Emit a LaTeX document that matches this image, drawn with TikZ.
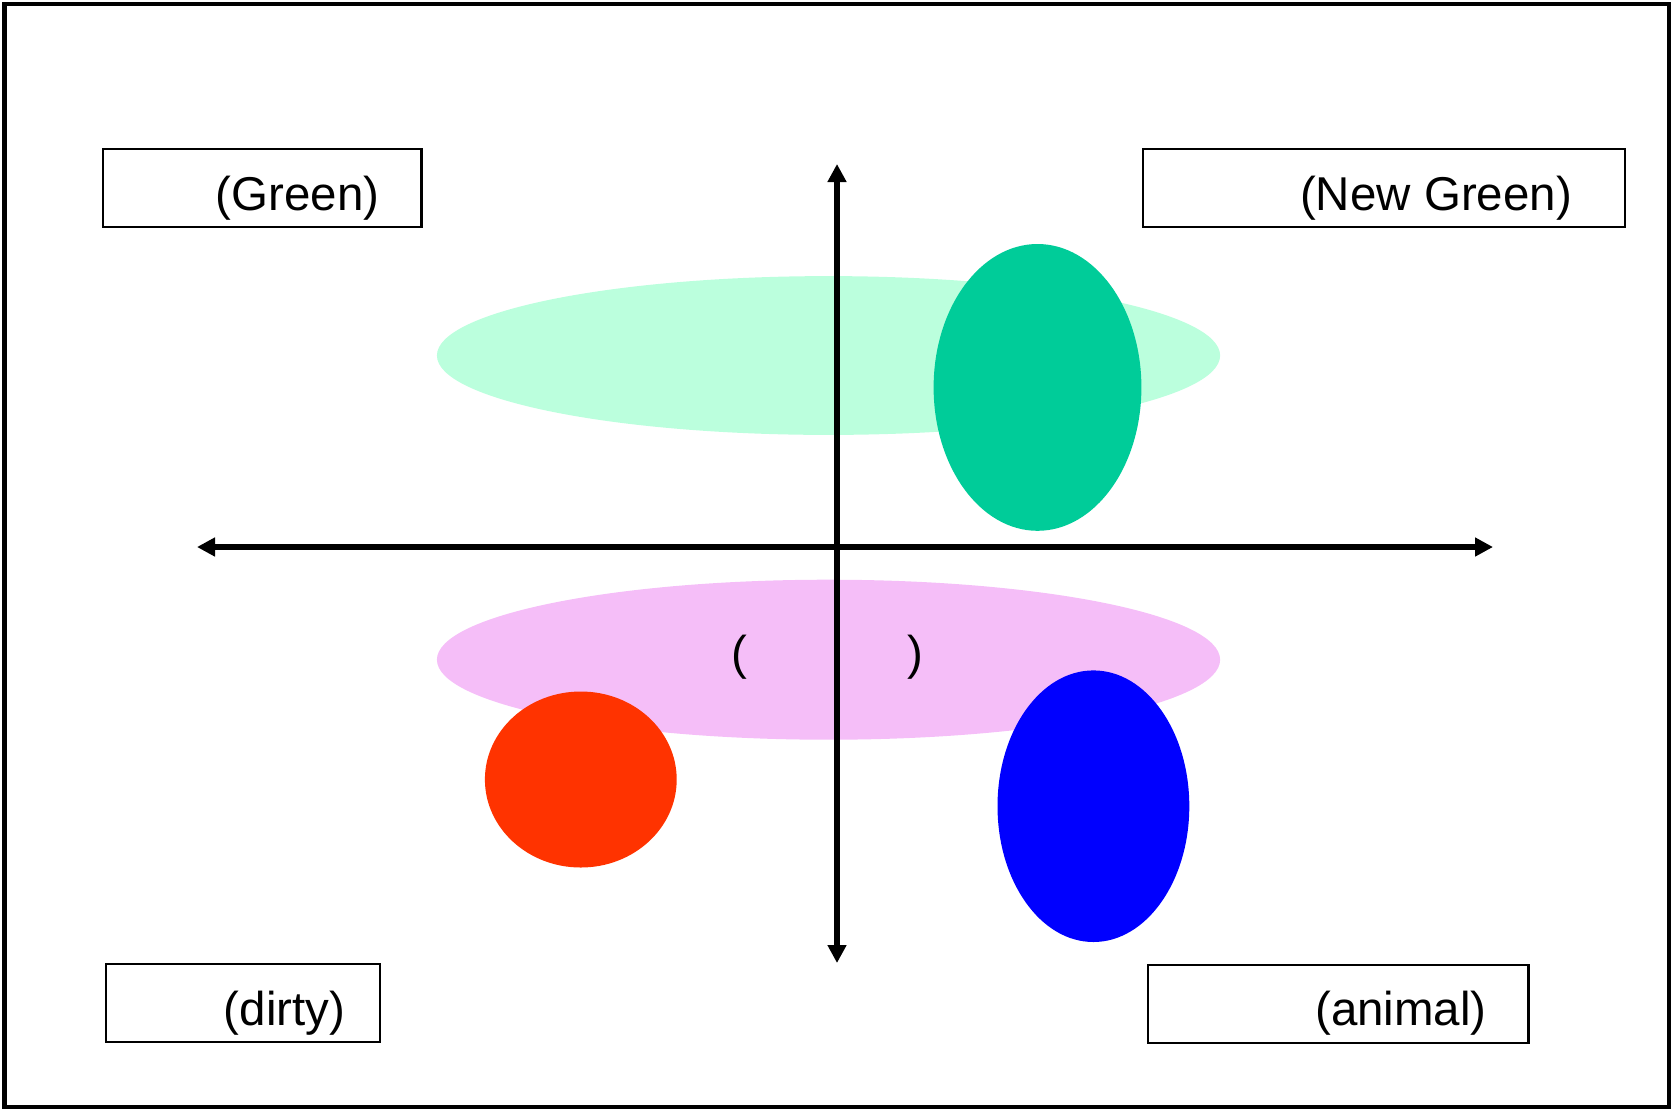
\documentclass[tikz,border=0pt]{standalone}
\usepackage{fontspec}
\setmainfont{Liberation Sans}
\usetikzlibrary{arrows.meta}
\definecolor{mapink}{HTML}{000000}
\definecolor{mintband}{HTML}{BBFFDD}
\definecolor{tealblob}{HTML}{00CC99}
\definecolor{pinkband}{HTML}{F5BEF8}
\definecolor{redblob}{HTML}{FF3300}
\definecolor{blueblob}{HTML}{0000FF}

\begin{document}
\begin{tikzpicture}[
  x=0.01cm,
  y=-0.01cm,
  every node/.style={font=\fontsize{13.5}{15}\selectfont, mapink},
  frame/.style={mapink, line width=1.15pt},
  axis/.style={mapink, line width=1.6pt,
               {Triangle[length=1.8mm, width=1.8mm]}-{Triangle[length=1.8mm, width=1.8mm]}},
  tagbox/.style={draw=mapink, line width=0.6pt, inner sep=0pt,
                 minimum height=0.78cm},
  tagtext/.style={inner sep=0pt}
]
  \useasboundingbox (0,0) rectangle (1671,1109);
  \draw[frame] (4.5,3.7) rectangle (1668.5,1106.5);

  % ---- upper band and its blob -----------------------------------------
  \fill[mintband] (828.5,355.5) ellipse [x radius=391.6, y radius=79.4];
  \fill[tealblob] (1037.5,387.4) ellipse [x radius=103.9, y radius=143.4];

  % ---- lower band and its two blobs ------------------------------------
  \fill[pinkband] (828.5,659.7) ellipse [x radius=391.6, y radius=80];
  \fill[redblob] (580.8,779.5) ellipse [x radius=95.9, y radius=88];
  \fill[blueblob] (1093.4,806.2) ellipse [x radius=95.9, y radius=135.8];
  \node[tagtext] (band) at (827,657) {(\hspace*{1.6cm})};

  % ---- the two axes ----------------------------------------------------
  \coordinate (west) at (197,547);
  \coordinate (east) at (1493,547);
  \coordinate (north) at (837,164);
  \coordinate (south) at (837,963);
  \draw[axis] (west) -- (east);
  \draw[axis] (south) -- (north);

  % ---- corner tags -----------------------------------------------------
  \node[tagbox, minimum width=3.185cm] (green) at (262.2,188.2) {};
  \node[tagtext] (greentxt) at (297.5,198) {(Green)};
  \node[tagbox, minimum width=4.823cm] (newgreen) at (1383.9,188.3) {};
  \node[tagtext] (newgreentxt) at (1436,198) {(New Green)};
  \node[tagbox, minimum width=2.74cm] (dirty) at (243,1003.3) {};
  \node[tagtext] (dirtytxt) at (284.5,1013) {(dirty)};
  \node[tagbox, minimum width=3.80cm] (animal) at (1338.3,1004.2) {};
  \node[tagtext] (animaltxt) at (1401,1013) {(animal)};
\end{tikzpicture}
\end{document}
